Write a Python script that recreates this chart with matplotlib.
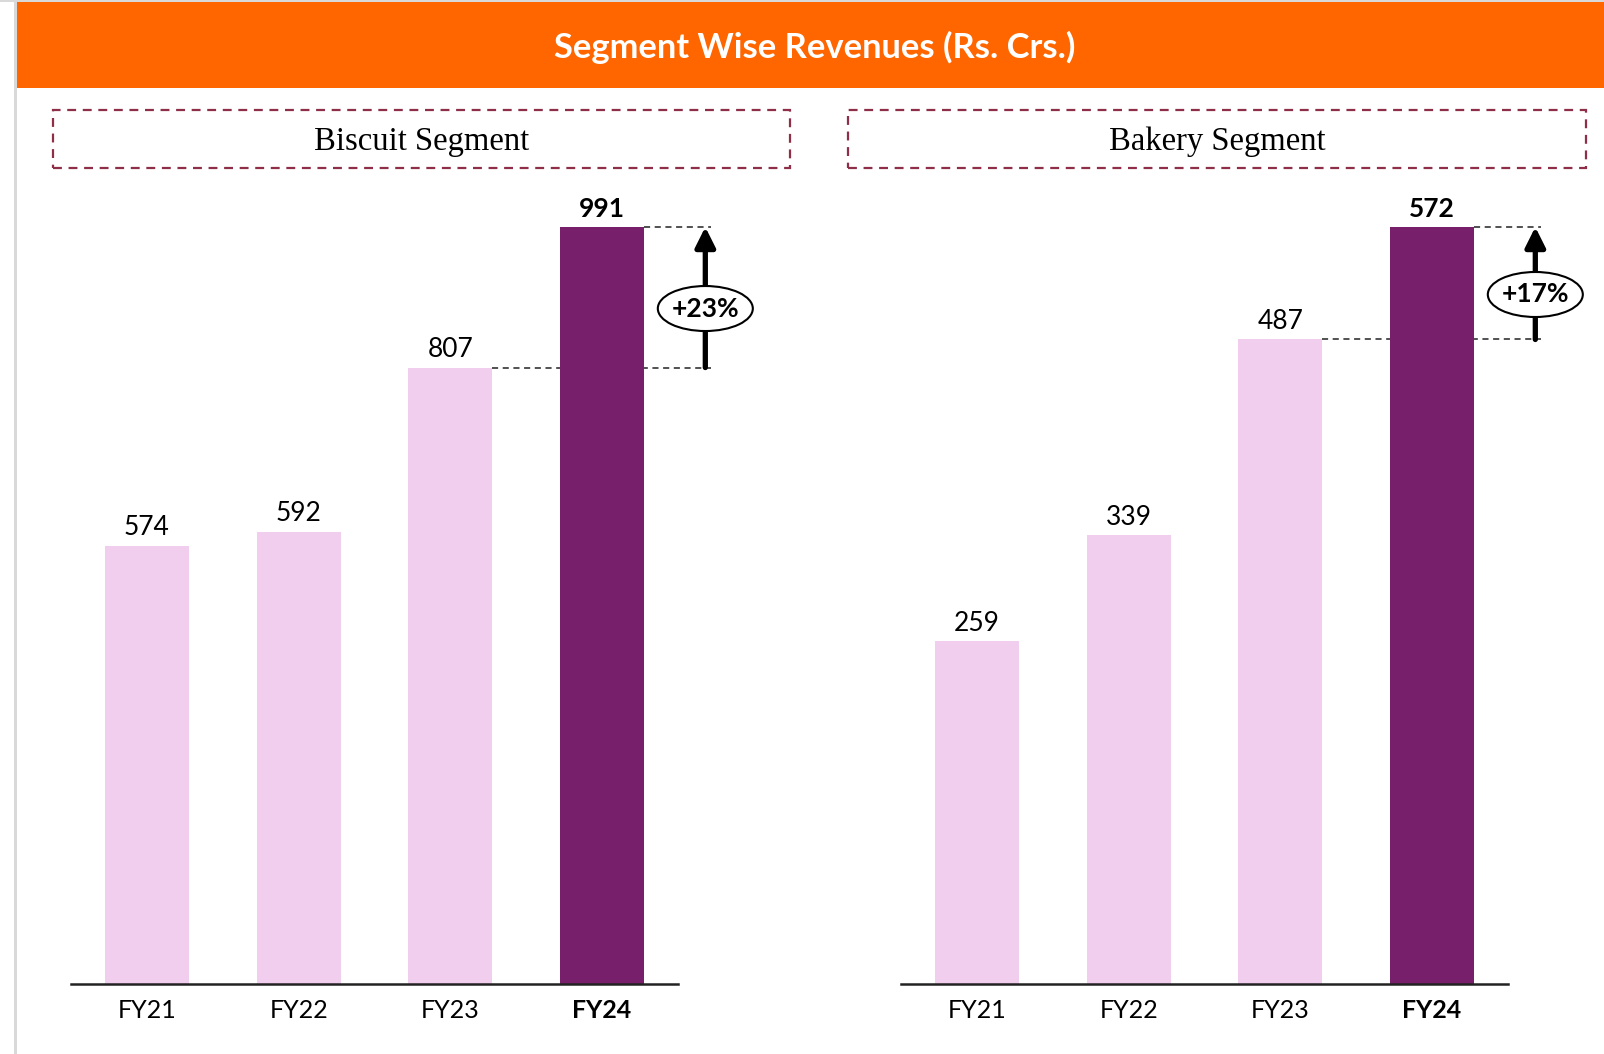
import matplotlib
matplotlib.use("Agg")
import matplotlib.pyplot as plt
from matplotlib.patches import Rectangle, Ellipse
from matplotlib.transforms import ScaledTranslation

# ---- data ----
years = ["FY21", "FY22", "FY23", "FY24"]
biscuit = [574, 592, 807, 991]
bakery = [259, 339, 487, 572]
panel_titles = ["Biscuit Segment", "Bakery Segment"]
main_title = "Segment Wise Revenues (Rs. Crs.)"

W, H = 1604, 1054
fig = plt.figure(figsize=(W / 100, H / 100), dpi=100)
fig.patch.set_facecolor("white")

ORANGE = "#FF6600"
PINK = "#F2CEEE"
PURPLE = "#771F6A"
MAROON = "#8E2E48"
SANS = ["Lato", "DejaVu Sans"]
SERIF = ["Liberation Serif", "DejaVu Serif"]


def fx(px):
    return px / W


def fy(py):
    return 1 - py / H


# frame: grey top and left border
fig.patches.append(Rectangle((fx(0), fy(2)), 1, 2 / H, transform=fig.transFigure,
                             facecolor="#D9D9D9", edgecolor="none"))
fig.patches.append(Rectangle((fx(14), 0), 3 / W, 1, transform=fig.transFigure,
                             facecolor="#D9D9D9", edgecolor="none"))
# orange banner
fig.patches.append(Rectangle((fx(17), fy(88)), 1 - fx(17), 86 / H, transform=fig.transFigure,
                             facecolor=ORANGE, edgecolor="none"))
fig.text(fx(815), fy(47), main_title, ha="center", va="center", color="white",
         fontsize=24.8, fontweight="bold", family=SANS)

# dashed title boxes
boxes = [(53, 790), (848, 1586)]
for (x0, x1), t in zip(boxes, panel_titles):
    fig.patches.append(Rectangle((fx(x0), fy(168)), (x1 - x0) / W, 58 / H,
                                 transform=fig.transFigure, facecolor="none",
                                 edgecolor=MAROON, lw=1.6, ls=(0, (4, 3))))
    fig.text(fx((x0 + x1) / 2), fy(142), t, ha="center", va="center",
             fontsize=23.5, family=SERIF, color="black")

# axes
ax_specs = [(71, biscuit, 0.42), (901, bakery, 0.40)]
bar_w = 0.553
base_px, top_bar_px, ax_top_px = 984, 227, 190
for left_px, vals, frac in ax_specs:
    ax = fig.add_axes([fx(left_px), fy(base_px), 607 / W, (base_px - ax_top_px) / H])
    x = list(range(len(years)))
    colors = [PINK] * (len(vals) - 1) + [PURPLE]
    ax.bar(x, vals, width=bar_w, color=colors, zorder=2)
    vmax = max(vals)
    ax.set_ylim(0, vmax * (base_px - ax_top_px) / (base_px - top_bar_px))
    ax.set_xlim(-0.5, 3.5)
    for s in ["left", "top", "right"]:
        ax.spines[s].set_visible(False)
    ax.spines["bottom"].set_linewidth(1.8)
    ax.spines["bottom"].set_color("#222222")
    ax.set_yticks([])
    ax.set_xticks(x)
    ax.set_xticklabels(years, fontsize=18, family=SANS)
    ax.tick_params(axis="x", length=0, pad=11)
    ax.get_xticklabels()[-1].set_fontweight("bold")
    for i, v in enumerate(vals):
        ax.annotate(f"{v}", (i, v), xytext=(0, 4), textcoords="offset points",
                    ha="center", va="bottom", fontsize=19, family=SANS,
                    fontweight="bold" if i == len(vals) - 1 else "normal")
    # growth annotation
    prev, last = vals[-2], vals[-1]
    xa = 3.68
    ax.plot([2 + bar_w / 2, xa + 0.04], [prev, prev], ls=(0, (4, 3)), color="#222222",
            lw=1.1, clip_on=False, zorder=1)
    ax.plot([3 + bar_w / 2, xa + 0.04], [last, last], ls=(0, (4, 3)), color="#222222",
            lw=1.1, clip_on=False, zorder=1)
    ax.annotate("", xy=(xa, last), xytext=(xa, prev), annotation_clip=False,
                arrowprops=dict(arrowstyle="-|>", lw=3.8, color="black",
                                mutation_scale=30, shrinkA=0, shrinkB=0))
    g = round((last - prev) / prev * 100)
    yc = prev + frac * (last - prev)
    ell = Ellipse((0, 0), width=0.95, height=0.45, facecolor="white", edgecolor="black",
                  lw=1.5, zorder=4, clip_on=False,
                  transform=fig.dpi_scale_trans + ScaledTranslation(xa, yc, ax.transData))
    ax.add_artist(ell)
    ax.text(xa, yc, f"+{g}%", ha="center", va="center",
            fontsize=19, fontweight="bold", family=SANS, zorder=5)

fig.savefig("out.png", dpi=100)
